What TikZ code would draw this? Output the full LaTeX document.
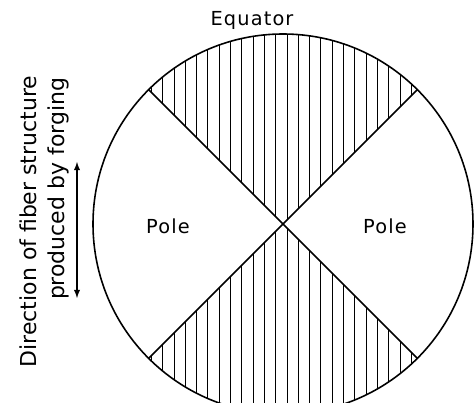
\documentclass[tikz,border=0pt]{standalone}
\usepackage{fontspec}
\setmainfont{DejaVu Sans}
\usetikzlibrary{arrows}

\begin{document}
\begin{tikzpicture}
\def\R{3.8}
\def\s{0.226}
\def\N{17}

\useasboundingbox (-5.66,-3.58) rectangle (3.84,4.48);

%hatched equator sectors
\begin{scope}
\clip (0,0) -- (135:\R) arc (135:45:\R) -- cycle
      (0,0) -- (225:\R) arc (225:315:\R) -- cycle;
\foreach \i in {-\N,...,\N}{
 \draw[line width=0.5pt] (\i*\s+0.08,-\R) -- (\i*\s+0.08,\R);
}
\end{scope}

\draw[line width=0.9pt] (0,0) circle (\R);
\draw[line width=0.9pt] (135:\R) -- (315:\R);
\draw[line width=0.9pt] (45:\R) -- (225:\R);

\node[anchor=base, font={\fontsize{11}{13}\selectfont\addfontfeatures{LetterSpace=6}}] (equator) at (-0.62,3.97) {Equator};
\node[anchor=base, font={\fontsize{11}{13}\selectfont\addfontfeatures{LetterSpace=6}}] (poleL) at (-2.30,-0.19) {Pole};
\node[anchor=base, font={\fontsize{11}{13}\selectfont\addfontfeatures{LetterSpace=6}}] (poleR) at (2.04,-0.19) {Pole};

%forging direction
\node[anchor=base, rotate=90, font=\fontsize{12.5}{15}\selectfont] (dir1) at (-4.92,0.05) {Direction of fiber structure};
\node[anchor=base, rotate=90, font=\fontsize{12.5}{15}\selectfont] (dir2) at (-4.36,0.70) {produced by forging};
\coordinate (dirtop) at (-4.12,1.24);
\coordinate (dirbot) at (-4.12,-1.48);
\draw[latex-latex, line width=0.6pt] (dirbot) -- (dirtop);
\end{tikzpicture}
\end{document}
